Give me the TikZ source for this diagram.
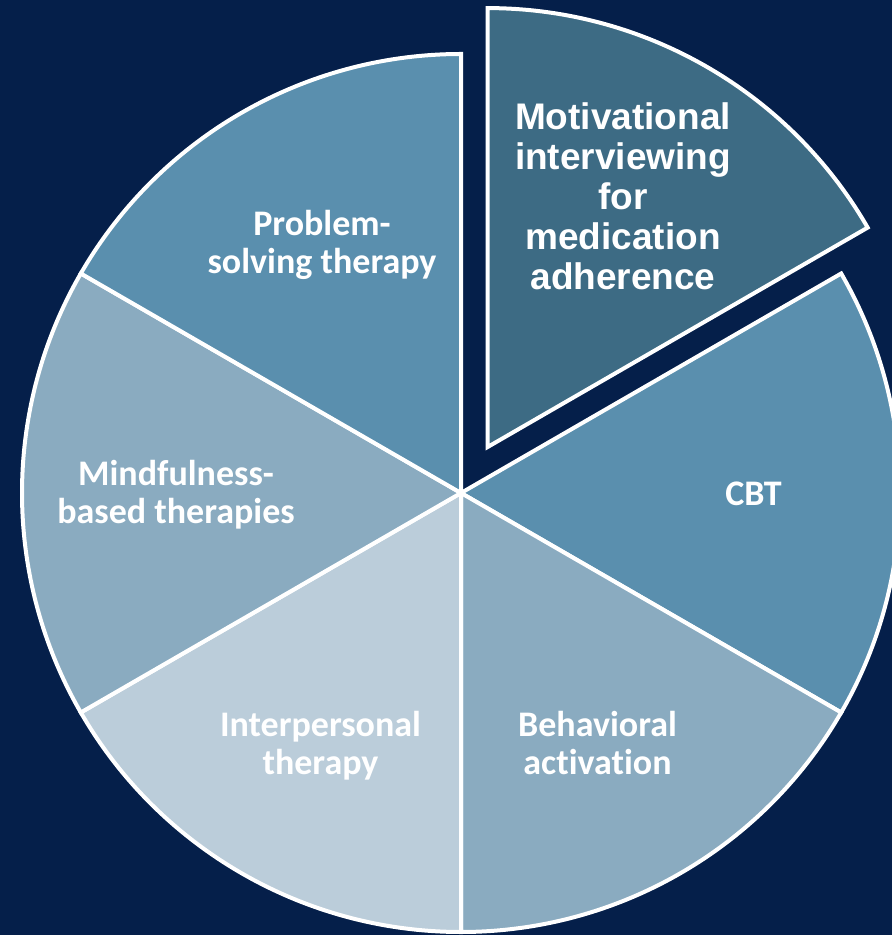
\documentclass[tikz,border=0pt]{standalone}
\usepackage{fontspec}
\usetikzlibrary{calc}
\newfontfamily\calfont[Ligatures=CommonOff]{Carlito}
\newfontfamily\arialfont{Liberation Sans}
\definecolor{bgnavy}{HTML}{051F4A}
\definecolor{slicedark}{HTML}{3D6B84}
\definecolor{slicemid}{HTML}{5A8FAE}
\definecolor{slicelight}{HTML}{8AABC0}
\definecolor{slicepale}{HTML}{BBCDDA}
\tikzset{
  slice/.style={draw=white, line width=4pt, line join=miter},
  lbl/.style={text=white, align=center, inner sep=0pt, font=\calfont\bfseries\fontsize{36}{38}\selectfont},
  lblbig/.style={text=white, align=center, inner sep=0pt, font=\arialfont\bfseries\fontsize{37}{40}\selectfont}
}
\begin{document}
\begin{tikzpicture}[x=1pt,y=1pt]
  \useasboundingbox (0,0) rectangle (892,935);
  \fill[bgnavy] (0,0) rectangle (892,935);
  \clip (0,0) rectangle (892,935);
  \def\R{439}
  \coordinate (c) at (461,442);
  \coordinate (cx) at ($(c)+(60:53)$);
  % pie slices
  \filldraw[slice, fill=slicemid]   (c) -- ++(-30:\R) arc[start angle=-30, end angle=30,  radius=\R] -- cycle;
  \filldraw[slice, fill=slicelight] (c) -- ++(-90:\R) arc[start angle=-90, end angle=-30, radius=\R] -- cycle;
  \filldraw[slice, fill=slicepale]  (c) -- ++(210:\R) arc[start angle=210, end angle=270, radius=\R] -- cycle;
  \filldraw[slice, fill=slicelight] (c) -- ++(150:\R) arc[start angle=150, end angle=210, radius=\R] -- cycle;
  \filldraw[slice, fill=slicemid]   (c) -- ++(90:\R)  arc[start angle=90,  end angle=150, radius=\R] -- cycle;
  % exploded slice
  \filldraw[slice, fill=slicedark]  (cx) -- ++(30:\R) arc[start angle=30, end angle=90, radius=\R] -- cycle;
  % labels
  \node[lblbig] (mi)  at (623,739) {Motivational\\interviewing\\for\\medication\\adherence};
  \node[lbl]    (cbt) at (753.5,441.5) {CBT};
  \node[lbl]    (ba)  at (597.5,191.5) {Behavioral\\activation};
  \node[lbl]    (ipt) at (320.5,189) {Interpersonal\\therapy};
  \node[lbl]    (mb)  at (176,440) {Mindfulness-\\based therapies};
  \node[lbl]    (pst) at (322,690) {Problem-\\solving therapy};
\end{tikzpicture}
\end{document}
